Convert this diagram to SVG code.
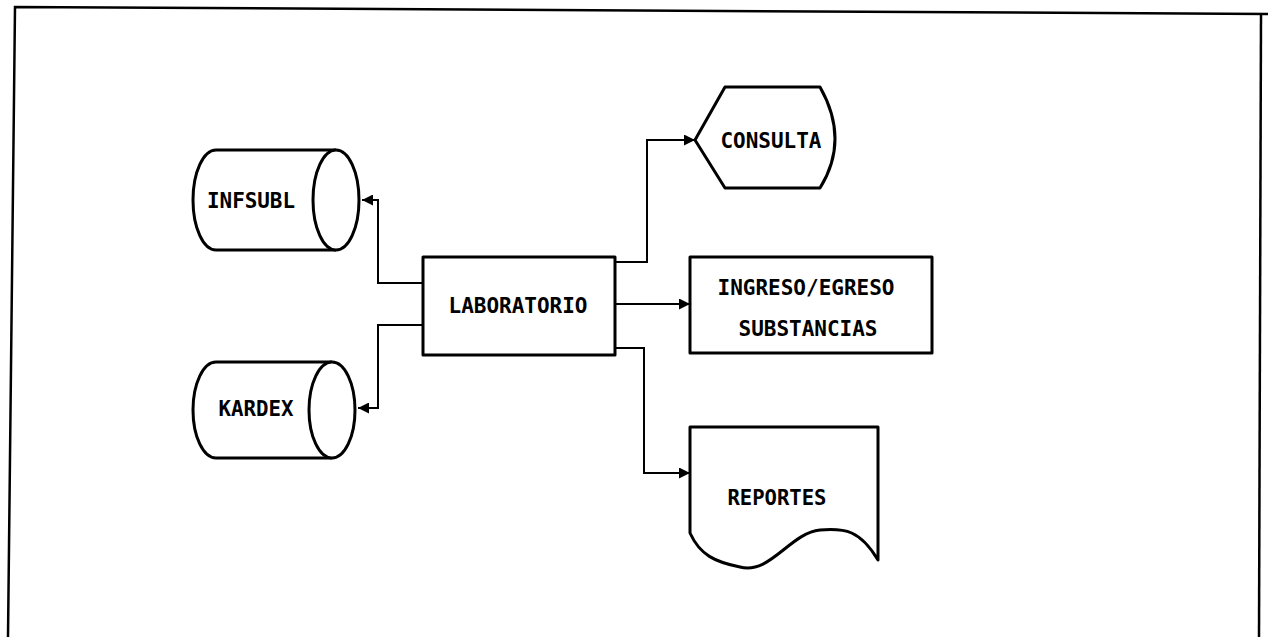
<svg xmlns="http://www.w3.org/2000/svg" width="1268" height="637" viewBox="0 0 1268 637">
<style>
.shape{fill:#fff;stroke:#000;stroke-width:3;stroke-linejoin:round}
.conn{fill:none;stroke:#000;stroke-width:2}
.lbl{font-family:"DejaVu Sans Mono","Liberation Mono",monospace;font-weight:bold;font-size:22px;fill:#000;text-anchor:middle;dominant-baseline:central}
.frame{fill:none;stroke:#000;stroke-width:2.5}
</style>
<defs>
<marker id="arr" markerWidth="11" markerHeight="11" refX="11" refY="5.5" orient="auto" markerUnits="userSpaceOnUse">
<path d="M0,0 L11,5.5 L0,11 Z" fill="#000"/>
</marker>
</defs>
<rect width="1268" height="637" fill="#fff"/>
<g id="frame">
<polyline class="frame" points="8,637 15,7 1268,14"/>
<line class="frame" x1="1261" y1="14" x2="1259" y2="637"/>
</g>
<g id="connectors">
<polyline class="conn" points="423,283 378,283 378,200 362,200" marker-end="url(#arr)"/>
<polyline class="conn" points="423,325 378,325 378,408 358,408" marker-end="url(#arr)"/>
<polyline class="conn" points="615,262 647,262 647,140 695,140" marker-end="url(#arr)"/>
<polyline class="conn" points="615,304 690,304" marker-end="url(#arr)"/>
<polyline class="conn" points="615,348 644,348 644,473 690,473" marker-end="url(#arr)"/>
</g>
<g id="infsubl">
<path class="shape" d="M336,150 L216,150 A23,50 0 0 0 216,250 L336,250"/>
<ellipse class="shape" cx="336" cy="200" rx="23" ry="50"/>
<text class="lbl" x="251" y="200" textLength="88" lengthAdjust="spacingAndGlyphs">INFSUBL</text>
</g>
<g id="kardex">
<path class="shape" d="M332,362 L216,362 A23,48 0 0 0 216,458 L332,458"/>
<ellipse class="shape" cx="332" cy="410" rx="23" ry="48"/>
<text class="lbl" x="256" y="408" textLength="75" lengthAdjust="spacingAndGlyphs">KARDEX</text>
</g>
<g id="laboratorio">
<rect class="shape" x="423" y="257" width="192" height="98"/>
<text class="lbl" x="518" y="305" textLength="139" lengthAdjust="spacingAndGlyphs">LABORATORIO</text>
</g>
<g id="consulta">
<path class="shape" d="M695,140 L725,87 L820,87 Q850,140 820,188 L725,188 Z"/>
<text class="lbl" x="771" y="140" textLength="101" lengthAdjust="spacingAndGlyphs">CONSULTA</text>
</g>
<g id="ingreso">
<rect class="shape" x="690" y="257" width="242" height="96"/>
<text class="lbl" x="806" y="287" textLength="177" lengthAdjust="spacingAndGlyphs">INGRESO/EGRESO</text>
<text class="lbl" x="808" y="328" textLength="139" lengthAdjust="spacingAndGlyphs">SUBSTANCIAS</text>
</g>
<g id="reportes">
<path class="shape" d="M690,427 L878,427 L878,560 C860,530 845,528 820,530 C790,533 770,575 740,567 C715,562 700,555 690,533 Z"/>
<text class="lbl" x="777" y="497" textLength="99" lengthAdjust="spacingAndGlyphs">REPORTES</text>
</g>
</svg>
